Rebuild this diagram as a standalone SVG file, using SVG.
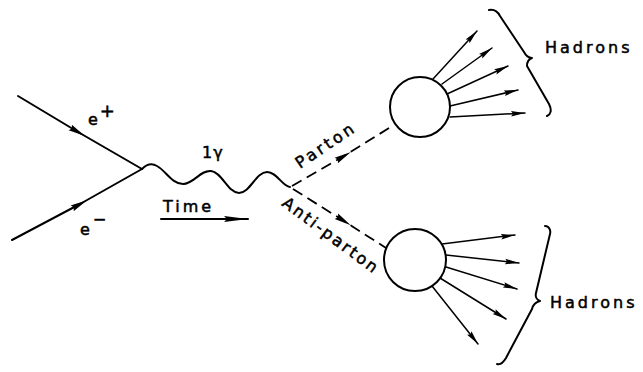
<svg xmlns="http://www.w3.org/2000/svg" width="643" height="372" viewBox="0 0 643 372">
  <style>
    .ln { fill: none; stroke: #000; stroke-width: 2; stroke-linecap: round; stroke-linejoin: round; }
    .thin { fill: none; stroke: #000; stroke-width: 1.5; stroke-linecap: round; }
    .dash { fill: none; stroke: #000; stroke-width: 1.8; stroke-dasharray: 11 6; }
    .blob { fill: #fff; stroke: #000; stroke-width: 2; }
    .lbl { font-family: "DejaVu Sans", "Liberation Sans", sans-serif; font-size: 16px; fill: #000; stroke: #000; stroke-width: 0.5; }
  </style>
  <defs>
    <marker id="head" markerUnits="userSpaceOnUse" markerWidth="16" markerHeight="8" viewBox="0 0 16 8" refX="14" refY="4" orient="auto">
      <path d="M0,1.2 L14,4 L0,6.8 L2,4 z" fill="#000"/>
    </marker>
    <marker id="mid" markerUnits="userSpaceOnUse" markerWidth="18" markerHeight="10" viewBox="0 0 18 10" refX="9" refY="5" orient="auto">
      <path d="M0,1.8 L17,5 L0,8.2 L2,5 z" fill="#000"/>
    </marker>
    <marker id="longhead" markerUnits="userSpaceOnUse" markerWidth="26" markerHeight="10" viewBox="0 0 26 10" refX="24" refY="5" orient="auto">
      <path d="M0,2 L24,5 L0,8 L3,5 z" fill="#000"/>
    </marker>
  </defs>

  <!-- propagators -->
  <g id="connectors">
    <!-- incoming positron -->
    <polyline class="ln" points="18,96 78,132 142,169" marker-mid="url(#mid)"/>
    <!-- incoming electron -->
    <polyline class="ln" points="12,240 80,204 142,169" marker-mid="url(#mid)"/>
    <!-- virtual photon -->
    <path class="ln" d="M142,169 C147,164 152,163 157,166 C166,171 172,184 183,184 C194,184 200,170 211,171 C222,172 228,193 239,193 C250,193 256,172 267,172 C277,172 282,186 290,187"/>
    <!-- parton pair -->
    <polyline class="dash" points="292,186 344,156 394,125" marker-mid="url(#mid)"/>
    <polyline class="dash" points="293,189 344,221 386,248" marker-mid="url(#mid)"/>
    <!-- time direction -->
    <line class="ln" x1="161" y1="219" x2="248" y2="219" stroke-width="1.8" marker-end="url(#longhead)"/>
  </g>

  <!-- upper jet -->
  <g id="jet-upper">
    <circle class="blob" cx="420" cy="107" r="30"/>
    <line class="thin" x1="433" y1="79" x2="477" y2="31" marker-end="url(#head)"/>
    <line class="thin" x1="442" y1="84" x2="492" y2="48" marker-end="url(#head)"/>
    <line class="thin" x1="447" y1="94" x2="508" y2="66" marker-end="url(#head)"/>
    <line class="thin" x1="450" y1="106" x2="518" y2="90" marker-end="url(#head)"/>
    <line class="thin" x1="450" y1="117" x2="525" y2="113" marker-end="url(#head)"/>
    <path class="ln" stroke-width="1.8" d="M489,10 C495,9 498,12 500,16 L524,52 C526,56 529,58 532,58 C529,59 527,62 527,66 L549,104 C552,110 551,114 547,116"/>
    <text class="lbl" x="545" y="53" letter-spacing="3">Hadrons</text>
  </g>

  <!-- lower jet -->
  <g id="jet-lower">
    <circle class="blob" cx="415" cy="260" r="31"/>
    <line class="thin" x1="442" y1="244" x2="515" y2="235" marker-end="url(#head)"/>
    <line class="thin" x1="446" y1="255" x2="519" y2="263" marker-end="url(#head)"/>
    <line class="thin" x1="446" y1="267" x2="517" y2="289" marker-end="url(#head)"/>
    <line class="thin" x1="440" y1="278" x2="506" y2="319" marker-end="url(#head)"/>
    <line class="thin" x1="432" y1="286" x2="478" y2="344" marker-end="url(#head)"/>
    <path class="ln" stroke-width="1.8" d="M545,226 C549,226 551,230 550,234 L536,293 C535,297 537,300 540,301 C536,302 533,305 532,309 L506,358 C503,363 500,365 497,364"/>
    <text class="lbl" x="550" y="308" letter-spacing="3">Hadrons</text>
  </g>

  <!-- labels -->
  <g id="labels">
    <text class="lbl" x="88" y="125" font-size="18">e<tspan dx="2" dy="-8" font-size="18">+</tspan></text>
    <text class="lbl" x="80" y="235" font-size="18">e<tspan dx="3" dy="-10" font-size="16">−</tspan></text>
    <text class="lbl" x="202" y="158" font-size="16" letter-spacing="1">1γ</text>
    <text class="lbl" x="163" y="212" letter-spacing="3">Time</text>
    <text class="lbl" transform="translate(300,169) rotate(-34)" font-size="17" letter-spacing="3">Parton</text>
    <text class="lbl" transform="translate(281,205) rotate(36.7)" font-size="17" letter-spacing="2.4">Anti-parton</text>
  </g>
</svg>
